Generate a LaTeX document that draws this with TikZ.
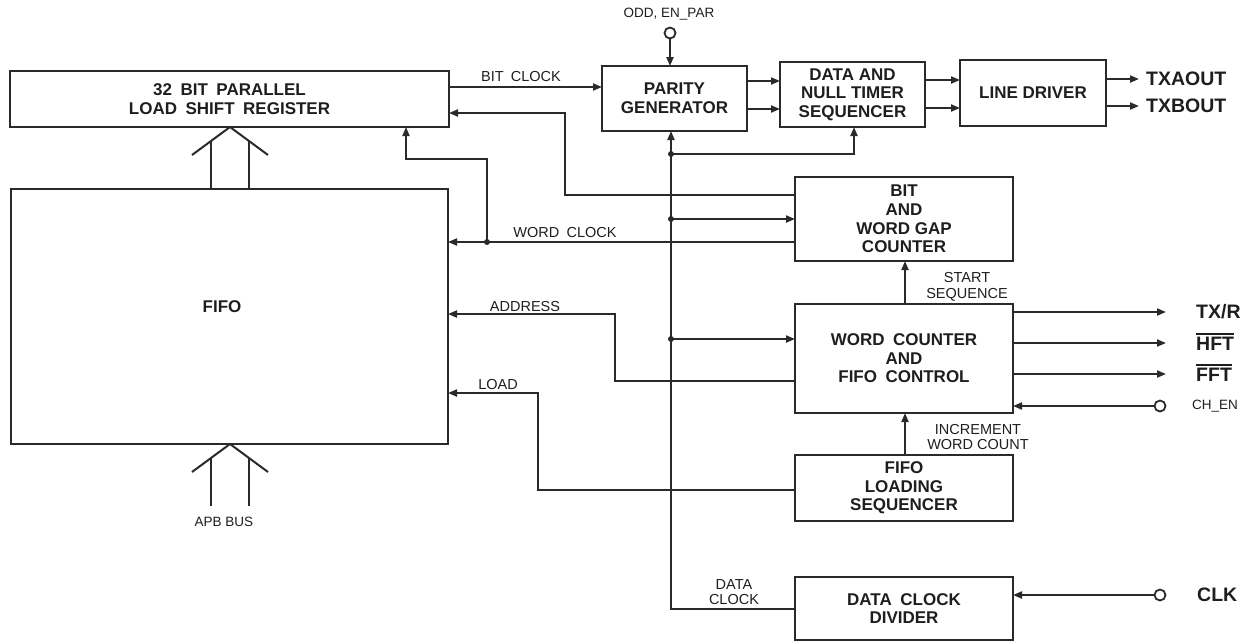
\documentclass[tikz,border=0pt]{standalone}
\usepackage{fontspec}
\setmainfont{Liberation Sans}
\usetikzlibrary{arrows.meta}
\definecolor{lc}{HTML}{2A2A2A}
\definecolor{tc}{HTML}{1E1E1E}
\newcommand\wsp{\hspace{0.5em}}
\newcommand\ovl[1]{\setbox0\hbox{#1}\leavevmode\vbox{\hrule width\wd0 height 1.6pt\kern1.8pt\box0}}
\begin{document}
\begin{tikzpicture}[x=1pt,y=-1pt,
  blk/.style={draw=lc, line width=2pt, inner sep=0pt, outer sep=0pt, align=center, text=tc,
    font=\bfseries\fontsize{17}{18.6}\selectfont},
  lbl/.style={font=\fontsize{14.5}{15.5}\selectfont, text=tc, inner sep=0pt, align=center},
  sml/.style={font=\fontsize{13.5}{14.5}\selectfont, text=tc, inner sep=0pt, align=center},
  big/.style={font=\bfseries\fontsize{19.5}{20}\selectfont, text=tc, inner sep=0pt, anchor=west},
  ln/.style={draw=lc, line width=2pt},
  arr/.style={ln, -{Triangle[length=9pt,width=7pt]}},
  jdot/.style={circle, fill=lc, inner sep=0pt, minimum size=6pt},
  pinc/.style={circle, draw=lc, fill=white, line width=1.8pt, inner sep=0pt, minimum size=11pt}]
\useasboundingbox (0,0) rectangle (1259,641);
% blocks
\node[blk, minimum width=439pt, minimum height=56pt] (SR) at (229.5,99) {32\wsp BIT\wsp PARALLEL\\LOAD\wsp SHIFT\wsp REGISTER};
\node[blk, minimum width=437pt, minimum height=255pt] (FIFO) at (229.5,316.5) {};
\node[blk, draw=none] (fifol) at (222,307) {FIFO};
\node[blk, minimum width=145pt, minimum height=65pt] (PG) at (674.5,98.5) {PARITY\\GENERATOR};
\node[blk, minimum width=145pt, minimum height=65pt] (DNT) at (852.5,94.5) {DATA AND\\NULL TIMER\\SEQUENCER};
\node[blk, minimum width=146pt, minimum height=66pt] (LD) at (1033,93) {LINE DRIVER};
\node[blk, minimum width=218pt, minimum height=84pt] (BWG) at (904,219) {BIT\\AND\\WORD GAP\\COUNTER};
\node[blk, minimum width=218pt, minimum height=109pt] (WC) at (904,358.5) {WORD\wsp COUNTER\\AND\\FIFO\wsp CONTROL};
\node[blk, minimum width=218pt, minimum height=66pt] (FLS) at (904,488) {FIFO\\LOADING\\SEQUENCER};
\node[blk, minimum width=218pt, minimum height=63pt] (DCD) at (904,608.5) {DATA\wsp CLOCK\\DIVIDER};
% bus chevrons
\coordinate (busT) at (230,127);
\coordinate (busB) at (230,444);
\draw[ln] (192,155) -- (busT) -- (268,155);
\draw[ln] (211,141) -- (211,188) (249,141) -- (249,188);
\draw[ln] (192,472) -- (busB) -- (268,472);
\draw[ln] (211,458) -- (211,506) (249,458) -- (249,506);
\node[sml] (apb) at (224,522) {APB BUS};
% bit clock
\draw[arr] (SR.east |- 0,87) -- (PG.west |- 0,87);
\node[lbl] (bcl) at (521,77) {BIT\wsp CLOCK};
% feedback to SR right
\draw[arr] (BWG.west |- 0,195) -| (565,113) -- (SR.east |- 0,113);
% word clock
\node[jdot] (wcdot) at (487,242) {};
\draw[arr] (BWG.west |- 0,242) -- (FIFO.east |- 0,242);
\draw[arr] (wcdot.center) |- (406,159) -- (SR.south -| 406,0);
\node[lbl] (wcl) at (565,233) {WORD\wsp CLOCK};
% main bus
\coordinate (busbot) at (671,609);
\draw[arr] (DCD.west |- busbot) -- (busbot) -- (PG.south -| busbot);
\node[lbl] (dcl) at (734,592) {DATA\\CLOCK};
\node[jdot] (d1) at (671,154) {};
\node[jdot] (d2) at (671,219) {};
\node[jdot] (d3) at (671,339) {};
\draw[arr] (d1.center) -| (DNT.south -| 854,0);
\draw[arr] (d2.center) -- (BWG.west |- d2);
\draw[arr] (d3.center) -- (WC.west |- d3);
% address, load
\draw[arr] (WC.west |- 0,381) -| (615,314) -- (FIFO.east |- 0,314);
\node[lbl] (adl) at (525,306) {ADDRESS};
\draw[arr] (FLS.west |- 0,490) -| (538,393) -- (FIFO.east |- 0,393);
\node[lbl] (ldl) at (498,385) {LOAD};
% odd, en_par
\node[pinc] (odd) at (670,33) {};
\node[sml] (oddl) at (669,14) {ODD, EN\_PAR};
\draw[arr] (odd) -- (PG.north -| odd);
% PG -> DNT -> LD -> outputs
\draw[arr] (PG.east |- 0,81) -- (DNT.west |- 0,81);
\draw[arr] (PG.east |- 0,109) -- (DNT.west |- 0,109);
\draw[arr] (DNT.east |- 0,80) -- (LD.west |- 0,80);
\draw[arr] (DNT.east |- 0,108) -- (LD.west |- 0,108);
\coordinate (ta) at (1139,79);
\coordinate (tb) at (1139,106);
\draw[arr] (LD.east |- ta) -- (ta);
\draw[arr] (LD.east |- tb) -- (tb);
\node[big] (tal) at (1146,79) {TXAOUT};
\node[big] (tbl) at (1146,106) {TXBOUT};
% start sequence, increment
\draw[arr] (WC.north -| 905,0) -- (BWG.south -| 905,0);
\node[lbl] (ssl) at (967,287) {START\\SEQUENCE};
\draw[arr] (FLS.north -| 905,0) -- (WC.south -| 905,0);
\node[lbl] (iwl) at (978,437) {INCREMENT\\WORD COUNT};
% WC outputs
\coordinate (o1) at (1166,312);
\coordinate (o2) at (1166,343);
\coordinate (o3) at (1166,374);
\draw[arr] (WC.east |- o1) -- (o1);
\draw[arr] (WC.east |- o2) -- (o2);
\draw[arr] (WC.east |- o3) -- (o3);
\node[big] (o1l) at (1196,312) {TX/R};
\node[big, anchor=base west] (o2l) at (1196,350) {\ovl{HFT}};
\node[big, anchor=base west] (o3l) at (1196,381) {\ovl{FFT}};
% CH_EN, CLK
\node[pinc] (chen) at (1160,406) {};
\draw[arr] (chen) -- (WC.east |- chen);
\node[sml, anchor=west] (chenl) at (1192,406) {CH\_EN};
\node[pinc] (clk) at (1160,595) {};
\draw[arr] (clk) -- (DCD.east |- clk);
\node[big] (clkl) at (1197,595) {CLK};
\end{tikzpicture}
\end{document}
